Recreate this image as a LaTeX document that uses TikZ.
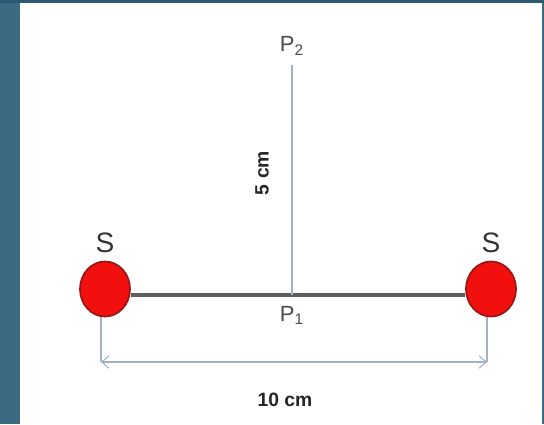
\documentclass[tikz,border=0pt]{standalone}
\usepackage{fontspec}
\setmainfont{Liberation Sans}
\usetikzlibrary{arrows.meta,positioning,shapes.geometric}
\definecolor{slide}{HTML}{3B6B80}
\definecolor{slidetop}{HTML}{2B5873}
\definecolor{charge}{HTML}{F2100F}
\definecolor{chargeedge}{HTML}{9E1414}
\definecolor{rod}{HTML}{5E5E5E}
\definecolor{guide}{HTML}{A3B2C3}

\begin{document}
\begin{tikzpicture}[x=0.02cm,y=-0.02cm,
    charge/.style={ellipse,fill=charge,draw=chargeedge,line width=1pt,
      minimum width=1cm,minimum height=1.1cm,inner sep=0pt},
    guideline/.style={guide,line width=0.6pt},
    chargelabel/.style={font=\fontsize{16}{18}\selectfont,text=black!80},
    pointlabel/.style={font=\fontsize{12.5}{14}\selectfont,text=black!70},
    dimlabel/.style={font=\fontsize{11}{13}\selectfont\bfseries,text=black!85}]
  % slide background
  \fill[slide] (0,0) rectangle (544,424);
  \fill[slidetop] (0,0) rectangle (544,3);
  \fill[white] (20,3) rectangle (542,424);
  \useasboundingbox (0,0) rectangle (544,424);
  % charges
  \node[charge] (sL) at (105,289) {};
  \node[charge] (sR) at (491,289) {};
  \node[chargelabel,above=1pt of sL] (labL) {S};
  \node[chargelabel,above=1pt of sR] (labR) {S};
  % points
  \coordinate (P1) at (292,295);
  \coordinate (top) at (292,65);
  \draw[rod,line width=2.4pt] (sL.east |- P1) -- (sR.west |- P1);
  \draw[guideline] (P1) -- (top);
  \node[pointlabel,above=2pt of top] (labP2) {P\textsubscript{2}};
  \node[pointlabel,below=3pt of P1] (labP1) {P\textsubscript{1}};
  \node[dimlabel,rotate=90] (h) at (262,173) {5 cm};
  % dimension
  \coordinate (dimL) at (101,362);
  \coordinate (dimR) at (487,362);
  \draw[guideline] (sL.south -| dimL) -- (dimL);
  \draw[guideline] (sR.south -| dimR) -- (dimR);
  \draw[guideline,{Straight Barb[length=4pt,width=7pt]}-{Straight Barb[length=4pt,width=7pt]}] (dimL) -- (dimR);
  \node[dimlabel] (w) at (285,400) {10 cm};
\end{tikzpicture}
\end{document}
